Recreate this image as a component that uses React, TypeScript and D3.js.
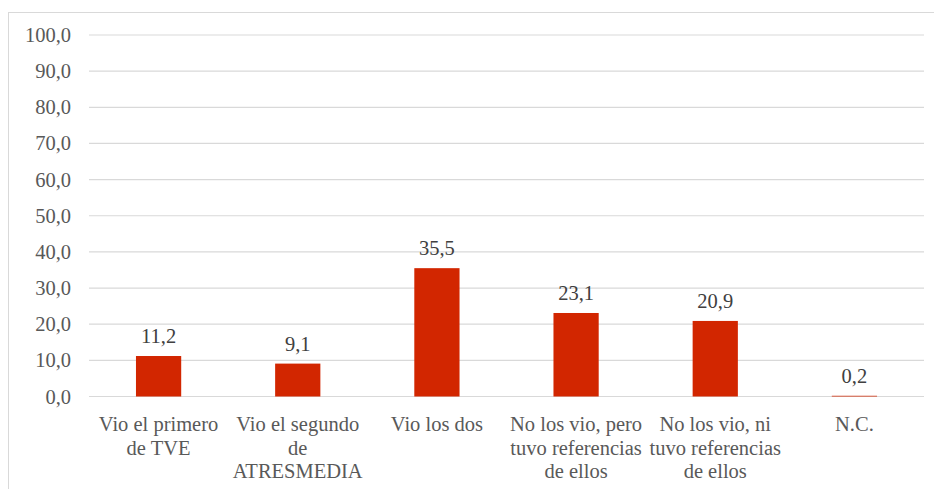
import React from "react";
import * as d3 from "d3";

const categories: string[] = [
  "Vio el primero\nde TVE",
  "Vio el segundo\nde\nATRESMEDIA",
  "Vio los dos",
  "No los vio, pero\ntuvo referencias\nde ellos",
  "No los vio, ni\ntuvo referencias\nde ellos",
  "N.C.",
];
const values: number[] = [11.2, 9.1, 35.5, 23.1, 20.9, 0.2];
const yTicks: number[] = [0, 10, 20, 30, 40, 50, 60, 70, 80, 90, 100];

const W = 934;
const H = 489;
const FS = 20.5;
const fmt = (v: number) => v.toFixed(1).replace(".", ",");

export default function App() {
  const x = d3.scaleBand<string>().domain(categories).range([89, 924]).padding(0);
  const y = d3.scaleLinear().domain([0, 100]).range([396.5, 35]);
  const bw = x.bandwidth() * 0.325;

  return (
    <svg
      width={W}
      height={H}
      fontFamily="Liberation Serif"
      style={{ position: "absolute", left: 0, top: 0, background: "#fff", fontFamily: "Liberation Serif" }}
    >
      <rect x={8.5} y={12.5} width={W} height={H} fill="#fff" stroke="#D9D9D9" strokeWidth={1} />
      {yTicks.map((t) => (
        <g key={t}>
          <line x1={89} x2={924} y1={y(t)} y2={y(t)} stroke="#D9D9D9" strokeWidth={1.2} />
          <text x={71} y={y(t) + 7} textAnchor="end" fontSize={FS} fontFamily="Liberation Serif" fill="#595959">
            {fmt(t)}
          </text>
        </g>
      ))}
      {categories.map((c, i) => {
        const cx = (x(c) as number) + x.bandwidth() / 2;
        const v = values[i];
        return (
          <g key={c}>
            <rect
              x={cx - bw / 2}
              y={y(v)}
              width={bw}
              height={y(0) - y(v)}
              fill="#D22600"
            />
            <text x={cx} y={y(v) - 13} textAnchor="middle" fontSize={FS} fontFamily="Liberation Serif" fill="#404040">
              {fmt(v)}
            </text>
            <text textAnchor="middle" fontSize={FS} fontFamily="Liberation Serif" fill="#595959">
              {c.split("\n").map((line, j) => (
                <tspan key={j} x={cx} y={431 + j * 23.5}>
                  {line}
                </tspan>
              ))}
            </text>
          </g>
        );
      })}
    </svg>
  );
}
